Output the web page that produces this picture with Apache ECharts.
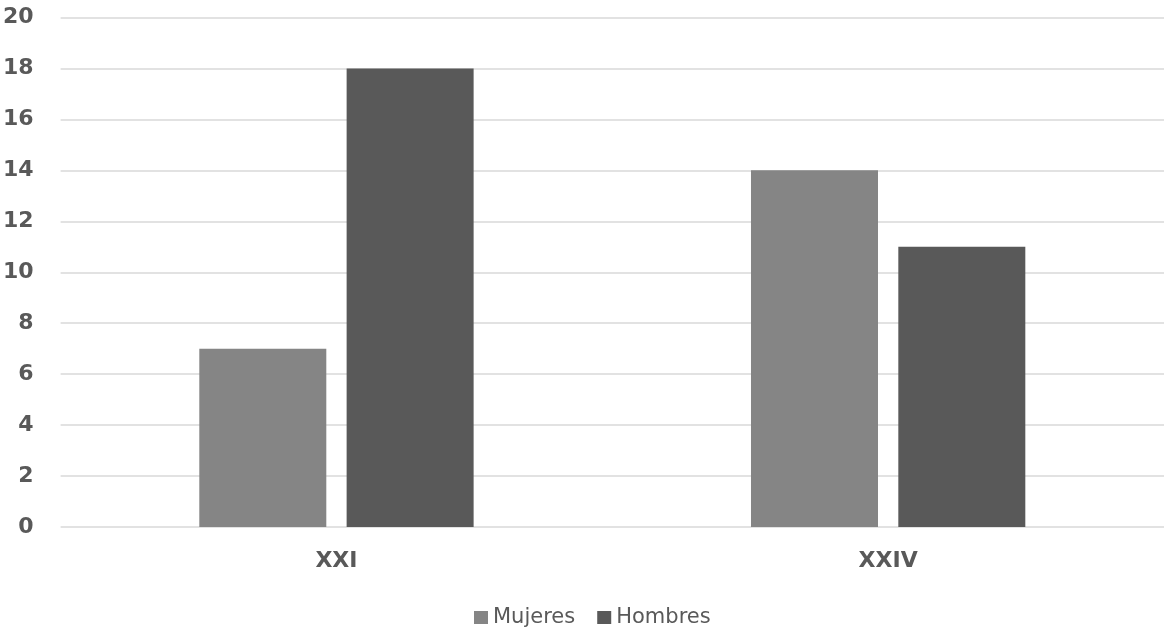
<!DOCTYPE html>
<html>
<head>
<meta charset="utf-8">
<script src="https://cdn.jsdelivr.net/npm/echarts@6/dist/echarts.min.js"></script>
<style>
  html, body { margin: 0; padding: 0; background: #ffffff; }
  #chart { width: 1164px; height: 629px; }
</style>
</head>
<body>
<div id="chart"></div>
<script>
// Legislaturas y número de diputados por sexo
const categories = ['XXI', 'XXIV'];
const mujeres = [7, 14];
const hombres = [18, 11];
const yTicks = { min: 0, max: 20, interval: 2 };

const FONT = 'DejaVu Sans, Liberation Sans, Arial, sans-serif';
const chart = echarts.init(document.getElementById('chart'), null, { renderer: 'canvas' });

chart.setOption({
  backgroundColor: '#ffffff',
  animation: false,
  textStyle: { fontFamily: FONT },
  grid: { left: 60, right: 0, top: 17.5, bottom: 102, containLabel: false },
  legend: {
    left: 469,
    top: 602,
    itemWidth: 14,
    itemHeight: 13,
    itemGap: 22,
    icon: 'rect',
    textStyle: { color: '#595959', fontSize: 21, fontFamily: FONT },
    data: ['Mujeres', 'Hombres']
  },
  xAxis: {
    type: 'category',
    data: categories,
    axisLine: { show: false },
    axisTick: { show: false },
    axisLabel: {
      color: '#595959',
      fontSize: 22,
      fontWeight: 'bold',
      margin: 23,
      fontFamily: FONT
    }
  },
  yAxis: {
    type: 'value',
    min: yTicks.min,
    max: yTicks.max,
    interval: yTicks.interval,
    axisLine: { show: false },
    axisTick: { show: false },
    splitLine: { lineStyle: { color: '#d9d9d9', width: 1.5 } },
    axisLabel: {
      color: '#595959',
      fontSize: 22,
      fontWeight: 'bold',
      margin: 27,
      fontFamily: FONT
    }
  },
  series: [
    {
      name: 'Mujeres',
      type: 'bar',
      data: mujeres,
      barWidth: 127,
      barGap: '16%',
      itemStyle: { color: '#858585' }
    },
    {
      name: 'Hombres',
      type: 'bar',
      data: hombres,
      barWidth: 127,
      itemStyle: { color: '#595959' }
    }
  ]
});
</script>
</body>
</html>
